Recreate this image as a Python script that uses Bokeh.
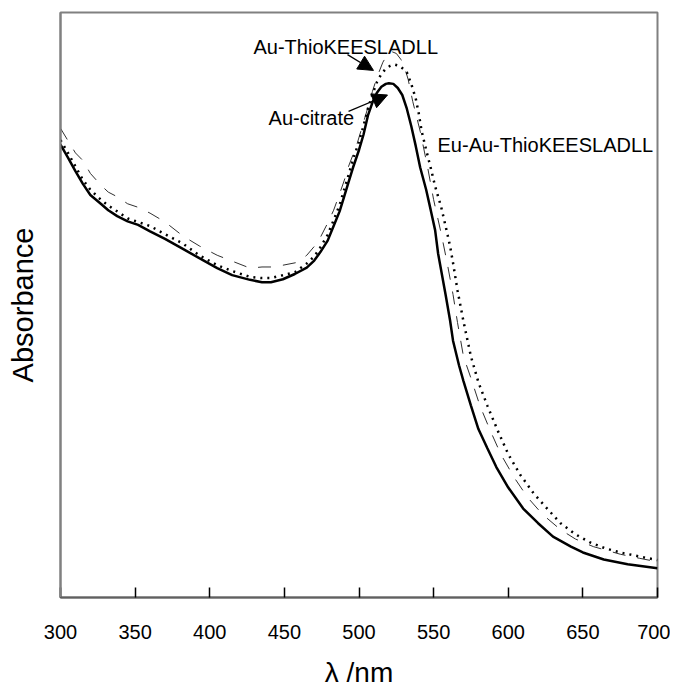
from bokeh.plotting import figure
from bokeh.models import Range1d, Label, Arrow, NormalHead, FixedTicker
from bokeh.embed import file_html
from bokeh.resources import INLINE

# Au-citrate (solid)
citrate_nm = [300, 305, 310, 315, 320, 327, 332, 338, 345, 352, 360, 370, 382, 393, 405, 415,
              427, 435, 441, 449, 457, 465, 470, 474, 479, 483, 487, 490, 493, 496, 500, 503,
              506, 509, 512, 515, 518, 520, 523, 526, 529, 532, 535, 538, 541, 545, 548, 551,
              553, 558, 561, 563, 567, 570, 575, 580, 586, 592, 600, 610, 620, 630, 642, 650,
              664, 680, 700]
citrate_abs = [0.774, 0.752, 0.729, 0.707, 0.688, 0.673, 0.662, 0.652, 0.643, 0.637, 0.626,
               0.613, 0.596, 0.580, 0.563, 0.551, 0.543, 0.539, 0.539, 0.544, 0.553, 0.564,
               0.576, 0.590, 0.610, 0.635, 0.660, 0.685, 0.710, 0.735, 0.765, 0.791, 0.824,
               0.846, 0.863, 0.873, 0.878, 0.879, 0.878, 0.871, 0.859, 0.836, 0.806, 0.772,
               0.735, 0.697, 0.663, 0.628, 0.588, 0.518, 0.474, 0.439, 0.397, 0.370, 0.328,
               0.288, 0.255, 0.223, 0.188, 0.152, 0.127, 0.104, 0.087, 0.077, 0.065, 0.057,
               0.050]

# Au-ThioKEESLADLL (dashed)
thio_nm = [300, 305, 310, 315, 320, 327, 332, 338, 345, 352, 360, 370, 382, 393, 405, 415,
           427, 435, 441, 449, 459, 465, 470, 474, 479, 483, 487, 490, 493, 496, 499, 503,
           506, 509, 512, 516, 519, 522, 525, 528, 530, 533, 536, 541, 546, 550, 555, 559,
           563, 566, 570, 575, 581, 588, 595, 604, 613, 623, 635, 645, 657, 675, 688, 700]
thio_abs = [0.802, 0.781, 0.760, 0.747, 0.725, 0.705, 0.693, 0.685, 0.673, 0.667, 0.657,
            0.642, 0.618, 0.601, 0.585, 0.575, 0.563, 0.565, 0.565, 0.568, 0.573, 0.585,
            0.600, 0.615, 0.640, 0.662, 0.690, 0.712, 0.737, 0.757, 0.778, 0.812, 0.838,
            0.865, 0.889, 0.915, 0.928, 0.933, 0.930, 0.920, 0.911, 0.885, 0.848, 0.797,
            0.735, 0.680, 0.623, 0.573, 0.518, 0.470, 0.412, 0.375, 0.328, 0.285, 0.245,
            0.205, 0.171, 0.142, 0.116, 0.100, 0.087, 0.074, 0.067, 0.061]

# Eu-Au-ThioKEESLADLL (dotted)
eu_nm = [300, 305, 310, 315, 320, 327, 332, 338, 345, 352, 360, 370, 382, 393, 405, 415, 427,
         435, 441, 449, 457, 465, 470, 474, 479, 483, 487, 490, 493, 496, 500, 503, 506, 509,
         512, 515, 518, 521, 524, 527, 530, 532, 535, 538, 540, 542, 545, 548, 551, 555, 558,
         561, 563, 566, 570, 575, 580, 586, 593, 600, 608, 617, 625, 635, 645, 655, 665, 675,
         688, 700]
eu_abs = [0.782, 0.760, 0.737, 0.714, 0.697, 0.680, 0.670, 0.660, 0.648, 0.642, 0.635, 0.621,
          0.605, 0.585, 0.568, 0.558, 0.548, 0.546, 0.546, 0.551, 0.556, 0.571, 0.583, 0.598,
          0.620, 0.645, 0.671, 0.697, 0.722, 0.749, 0.779, 0.806, 0.836, 0.860, 0.881, 0.895,
          0.904, 0.909, 0.911, 0.909, 0.903, 0.898, 0.878, 0.853, 0.828, 0.797, 0.765, 0.735,
          0.703, 0.668, 0.635, 0.601, 0.572, 0.525, 0.472, 0.412, 0.368, 0.328, 0.285, 0.245,
          0.210, 0.178, 0.155, 0.127, 0.108, 0.094, 0.084, 0.077, 0.070, 0.064]

x_ticks = [300, 350, 400, 450, 500, 550, 600, 650, 700]

FONT = "Liberation Sans"

p = figure(width=670, height=690, output_backend="svg", toolbar_location=None,
           x_range=Range1d(300, 700), y_range=Range1d(0, 1),
           min_border_left=60, min_border_top=12, min_border_right=13, min_border_bottom=81)
p.background_fill_color = "white"
p.border_fill_color = "white"
p.outline_line_color = "#808080"
p.outline_line_width = 2
p.grid.visible = False

p.xaxis.ticker = FixedTicker(ticks=x_ticks)
p.xaxis.axis_line_color = "#606060"
p.xaxis.axis_line_width = 2
p.xaxis.major_tick_line_color = "black"
p.xaxis.major_tick_line_width = 1.5
p.xaxis.major_tick_in = 10
p.xaxis.major_tick_out = 0
p.xaxis.minor_tick_line_color = None
p.xaxis.major_label_text_font = FONT
p.xaxis.major_label_text_font_size = "20px"
p.xaxis.major_label_text_color = "black"
p.xaxis.major_label_standoff = 27
p.xaxis.axis_label = "λ /nm"
p.xaxis.axis_label_text_font = FONT
p.xaxis.axis_label_text_font_size = "28px"
p.xaxis.axis_label_text_font_style = "normal"
p.xaxis.axis_label_text_color = "black"
p.xaxis.axis_label_standoff = 15

p.yaxis.ticker = FixedTicker(ticks=[])
p.yaxis.axis_line_color = "#808080"
p.yaxis.axis_line_width = 2
p.yaxis.major_tick_line_color = None
p.yaxis.minor_tick_line_color = None
p.yaxis.major_label_text_font_size = "0px"
p.yaxis.axis_label = "Absorbance"
p.yaxis.axis_label_text_font = FONT
p.yaxis.axis_label_text_font_size = "29px"
p.yaxis.axis_label_text_font_style = "normal"
p.yaxis.axis_label_text_color = "black"
p.yaxis.axis_label_standoff = 22

p.line(thio_nm, thio_abs, line_color="#303030", line_width=1, line_dash="13 12")
p.line(eu_nm, eu_abs, line_color="black", line_width=2.5, line_dash="2 5")
p.line(citrate_nm, citrate_abs, line_color="black", line_width=2.5)

for txt, x, y in [("Au-ThioKEESLADLL", 429.3, 0.941),
                  ("Au-citrate", 439.4, 0.819),
                  ("Eu-Au-ThioKEESLADLL", 552.6, 0.774)]:
    p.add_layout(Label(x=x, y=y, text=txt, text_font=FONT, text_font_size="20px",
                       text_color="black", text_baseline="alphabetic", text_align="left"))

for xs, ys, xe, ye in [(492.3, 0.928, 509.7, 0.901), (493.0, 0.831, 519.1, 0.859)]:
    p.add_layout(Arrow(end=NormalHead(size=15, fill_color="black", line_color="black"),
                       x_start=xs, y_start=ys, x_end=xe, y_end=ye,
                       line_color="black", line_width=1.2))

open("out.html", "w").write(file_html(p, INLINE))
